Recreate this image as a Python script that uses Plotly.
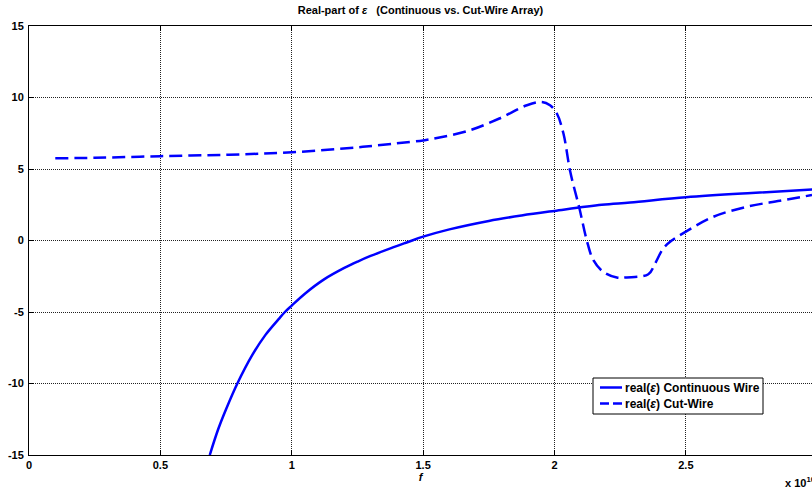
import plotly.graph_objects as go

# Frequency axis (units of 1e10 Hz) and real part of permittivity
f_cont = [0.688, 0.72, 0.75, 0.793, 0.85, 0.90, 0.95, 0.974, 1.00, 1.05, 1.123, 1.20,
          1.251, 1.30, 1.378, 1.44, 1.50, 1.60, 1.75, 1.875, 2.00, 2.18, 2.288,
          2.50, 2.75, 3.00]
eps_cont = [-15.0, -13.2, -11.8, -10.0, -8.0, -6.6, -5.5, -5.0, -4.55, -3.72, -2.72, -1.92,
            -1.47, -1.08, -0.53, -0.12, 0.27, 0.78, 1.37, 1.75, 2.07, 2.50, 2.66,
            3.02, 3.32, 3.58]

f_cut = [0.10, 0.25, 0.50, 0.76, 1.00, 1.27, 1.41, 1.50, 1.54, 1.67, 1.79, 1.895,
         1.952, 1.983, 2.009, 2.034, 2.060, 2.095, 2.123, 2.148, 2.186, 2.237, 2.275,
         2.357, 2.383, 2.414, 2.446, 2.50, 2.605, 2.732, 2.858, 2.98]
eps_cut = [5.75, 5.78, 5.90, 6.00, 6.17, 6.55, 6.82, 7.00, 7.13, 7.66, 8.53, 9.46,
           9.69, 9.46, 8.88, 7.48, 4.80, 2.24, 0.0, -1.38, -2.20, -2.59, -2.58,
           -2.36, -1.60, -0.55, 0.0, 0.62, 1.66, 2.36, 2.78, 3.18]

x_ticks = [0, 0.5, 1, 1.5, 2, 2.5]
x_ticktext = ["0", "0.5", "1", "1.5", "2", "2.5"]
y_ticks = [-15, -10, -5, 0, 5, 10, 15]
y_ticktext = ["-15", "-10", "-5", "0", "5", "10", "15"]

legend_labels = ["real(<i>ε</i>) Continuous Wire", "real(<i>ε</i>) Cut-Wire"]

FONT = "Arial, Liberation Sans, sans-serif"
BLUE = "#0000ff"
W, H = 812, 491
ML, MR, MT, MB = 29, 0, 26, 36
PW, PH = W - ML - MR, H - MT - MB


def px(xp):
    """Pixel column -> paper x."""
    return (xp - ML) / PW


def py(yp):
    """Pixel row -> paper y."""
    return (H - MB - yp) / PH


fig = go.Figure()
fig.add_trace(go.Scatter(
    x=f_cont, y=eps_cont, mode="lines", line_shape="spline",
    line=dict(color=BLUE, width=2.5), name=legend_labels[0],
))
fig.add_trace(go.Scatter(
    x=f_cut, y=eps_cut, mode="lines", line_shape="spline",
    line=dict(color=BLUE, width=2.5, dash="13px,6px"), name=legend_labels[1],
))

fig.update_layout(
    width=W, height=H,
    margin=dict(l=ML, r=MR, t=MT, b=MB),
    paper_bgcolor="white", plot_bgcolor="white",
    font=dict(family=FONT, size=11, color="black"),
    title=dict(
        text="<b>Real-part of <i>ε</i>\u00a0\u00a0 (Continuous vs. Cut-Wire Array)</b>",
        x=0.5, xref="paper", xanchor="center",
        y=1 - 10 / H, yref="container", yanchor="middle",
        font=dict(family=FONT, size=11, color="black"),
    ),
    showlegend=False,
)

fig.update_xaxes(
    range=[0, 2.98], tickvals=x_ticks, ticktext=[f"<b>{t}</b>" for t in x_ticktext],
    tickfont=dict(family=FONT, size=11, color="black"),
    showgrid=True, gridcolor="#222222", griddash="1px,1px", gridwidth=1,
    zeroline=False, showline=True, linecolor="black", linewidth=1,
    mirror="allticks", ticks="inside", ticklen=5, tickcolor="black",
    title=dict(text="<b><i>f</i></b>", standoff=0,
               font=dict(family=FONT, size=11, color="black")),
)
fig.update_yaxes(
    range=[-15, 15], tickvals=y_ticks, ticktext=[f"<b>{t}</b>" for t in y_ticktext],
    tickfont=dict(family=FONT, size=11, color="black"),
    showgrid=True, gridcolor="#222222", griddash="1px,1px", gridwidth=1,
    zeroline=False, showline=True, linecolor="black", linewidth=1,
    ticks="inside", ticklen=5, tickcolor="black", ticklabelstandoff=2,
)

# Compact boxed legend in the lower right of the axes
fig.add_shape(type="rect", xref="paper", yref="paper",
              x0=px(593), x1=px(763), y0=py(414), y1=py(378),
              line=dict(color="black", width=1), fillcolor="white", layer="above")
rows = [(387.5, "solid"), (403.5, "9px,4px")]
for (yrow, dash), label in zip(rows, legend_labels):
    fig.add_shape(type="line", xref="paper", yref="paper",
                  x0=px(600), x1=px(622), y0=py(yrow), y1=py(yrow),
                  line=dict(color=BLUE, width=2.5, dash=dash), layer="above")
    fig.add_annotation(text=f"<b>{label}</b>", xref="paper", yref="paper",
                       x=px(623), y=py(yrow), xanchor="left", yanchor="middle",
                       showarrow=False,
                       font=dict(family=FONT, size=12, color="black"))

# Axis exponent label at the lower right
fig.add_annotation(
    text="<b>x 10<sup>10</sup></b>", xref="paper", yref="paper",
    x=px(783), y=py(482), xanchor="left", yanchor="middle",
    showarrow=False, font=dict(family=FONT, size=11, color="black"),
)

fig.write_html("out.html")
